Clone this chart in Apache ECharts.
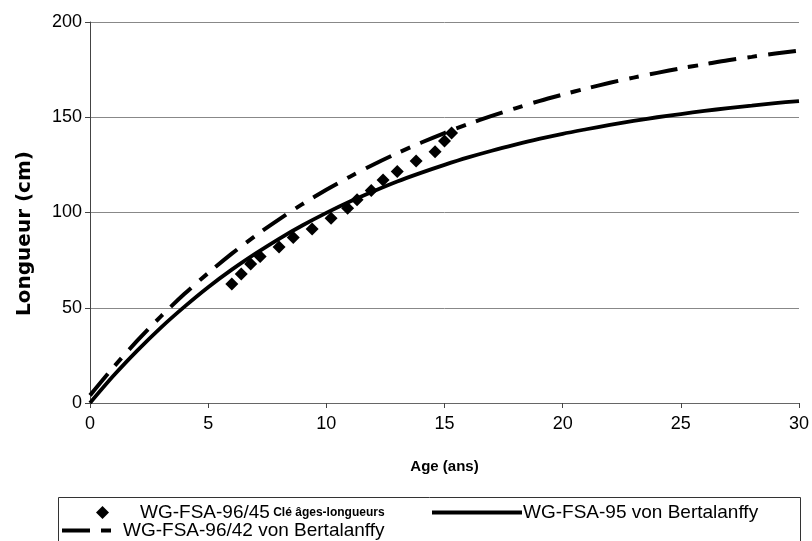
<!DOCTYPE html>
<html>
<head>
<meta charset="utf-8">
<script src="https://cdn.jsdelivr.net/npm/echarts@6/dist/echarts.min.js"></script>
<style>
  html, body { margin: 0; padding: 0; background: #fff; }
  #chart { width: 812px; height: 541px; }
</style>
</head>
<body>
<div id="chart"></div>
<script>
// Age-length key observations (age in years, length in cm)
const keyAges = [6.0, 6.4, 6.8, 7.2, 8.0, 8.6, 9.4, 10.2, 10.9, 11.3, 11.9, 12.4, 13.0, 13.8, 14.6, 15.0, 15.3];
const keyLengths = [62.5, 67.7, 73.0, 76.9, 81.9, 86.9, 91.4, 97.0, 102.2, 106.7, 111.6, 117.1, 121.5, 127.0, 131.9, 137.5, 141.7];

// Growth curves read at whole years 0..30
const curveAges = [0, 1, 2, 3, 4, 5, 6, 7, 8, 9, 10, 11, 12, 13, 14, 15, 16, 17, 18, 19, 20, 21, 22, 23, 24, 25, 26, 27, 28, 29, 30];
const vb95 = [0, 14.4, 27.5, 39.6, 50.6, 60.8, 70.0, 78.4, 86.2, 93.3, 99.8, 105.8, 111.2, 116.3, 120.8, 125.0, 128.9, 132.4, 135.6, 138.6, 141.3, 143.7, 146.0, 148.1, 150.0, 151.7, 153.3, 154.8, 156.1, 157.4, 158.5];
const vb9642 = [4, 18.9, 32.7, 45.5, 57.3, 68.2, 78.4, 87.8, 96.4, 104.5, 111.9, 118.8, 125.2, 131.1, 136.6, 141.7, 146.4, 150.7, 154.7, 158.5, 161.9, 165.1, 168.1, 170.8, 173.3, 175.7, 177.8, 179.9, 181.7, 183.5, 185.0];

// Axis ticks
const xTicks = [0, 5, 10, 15, 20, 25, 30];
const yTicks = [0, 50, 100, 150, 200];

const nameKey = 'WG-FSA-96/45 Clé âges-longueurs';
const name95 = 'WG-FSA-95 von Bertalanffy';
const name9642 = 'WG-FSA-96/42 von Bertalanffy';

const FONT = 'Liberation Sans, Arial, sans-serif';
const dashPattern = [28, 11, 10, 11];

const zip = (xs, ys) => xs.map((x, i) => [x, ys[i]]);

const chart = echarts.init(document.getElementById('chart'), null, { renderer: 'canvas' });

chart.setOption({
  animation: false,
  backgroundColor: '#ffffff',
  textStyle: { fontFamily: FONT, color: '#000' },
  grid: { left: 90, right: 12, top: 22, bottom: 138, containLabel: false },
  xAxis: {
    type: 'value',
    min: xTicks[0],
    max: xTicks[xTicks.length - 1],
    interval: xTicks[1] - xTicks[0],
    name: 'Age (ans)',
    nameLocation: 'middle',
    nameGap: 56,
    nameTextStyle: { fontFamily: FONT, fontSize: 15, fontWeight: 'bold', color: '#000' },
    axisLine: { show: true, lineStyle: { color: '#666', width: 1 } },
    axisTick: { show: true, inside: false, length: 5, lineStyle: { color: '#444' } },
    axisLabel: { fontFamily: FONT, fontSize: 18, color: '#000', margin: 12 },
    splitLine: { show: false }
  },
  yAxis: {
    type: 'value',
    min: yTicks[0],
    max: yTicks[yTicks.length - 1],
    interval: yTicks[1] - yTicks[0],
    name: 'Longueur (cm)',
    nameLocation: 'middle',
    nameGap: 55,
    nameTextStyle: {
      fontFamily: 'DejaVu Sans, sans-serif', fontSize: 20, fontWeight: 'bold', color: '#000',
      padding: [0, 42, 0, 0]
    },
    axisLine: { show: true, lineStyle: { color: '#444', width: 1 } },
    axisTick: { show: true, inside: false, length: 5, lineStyle: { color: '#444' } },
    axisLabel: { fontFamily: FONT, fontSize: 18, color: '#000', margin: 8 },
    splitLine: { show: true, lineStyle: { color: '#888', width: 1 } }
  },
  legend: [
    {
      data: [{ name: nameKey, icon: 'diamond' }],
      left: 96, top: 503,
      itemWidth: 13, itemHeight: 13,
      padding: 0,
      itemStyle: { color: '#000', opacity: 1 },
      formatter: () => '{sp|}{a|WG-FSA-96/45} {b|Clé âges-longueurs}',
      textStyle: {
        rich: {
          sp: { width: 26 },
          a: { fontFamily: FONT, fontSize: 19, color: '#000' },
          b: { fontFamily: FONT, fontSize: 12, fontWeight: 'bold', color: '#000' }
        }
      }
    },
    {
      data: [{ name: name95, itemStyle: { opacity: 0 } }],
      left: 430, top: 503,
      itemWidth: 90, itemHeight: 14,
      padding: 0,
      lineStyle: { width: 4, color: '#000' },
      textStyle: { fontFamily: FONT, fontSize: 19, color: '#000', padding: [0, 0, 0, -4] }
    },
    {
      data: [{ name: name9642, itemStyle: { opacity: 0 } }],
      left: 60, top: 521,
      itemWidth: 60, itemHeight: 14,
      padding: 0,
      lineStyle: { width: 4, color: '#000' },
      textStyle: { fontFamily: FONT, fontSize: 19, color: '#000', padding: [0, 0, 0, -4] }
    }
  ],
  graphic: [
    {
      type: 'rect',
      left: 56, top: 495,
      shape: { width: 742, height: 60 },
      style: { fill: 'none', stroke: '#333', lineWidth: 1 },
      silent: true
    }
  ],
  series: [
    {
      name: name95,
      type: 'line',
      data: zip(curveAges, vb95),
      smooth: 0.3,
      symbol: 'none',
      showSymbol: false,
      lineStyle: { color: '#000', width: 3.8 },
      itemStyle: { color: '#000' },
      z: 2
    },
    {
      name: name9642,
      type: 'line',
      data: zip(curveAges, vb9642),
      smooth: 0.3,
      symbol: 'none',
      showSymbol: false,
      lineStyle: { color: '#000', width: 4, type: dashPattern, cap: 'butt' },
      itemStyle: { color: '#000' },
      z: 3
    },
    {
      name: nameKey,
      type: 'scatter',
      data: zip(keyAges, keyLengths),
      symbol: 'diamond',
      symbolSize: 13,
      itemStyle: { color: '#000', opacity: 1 },
      z: 4
    }
  ]
});
</script>
</body>
</html>
